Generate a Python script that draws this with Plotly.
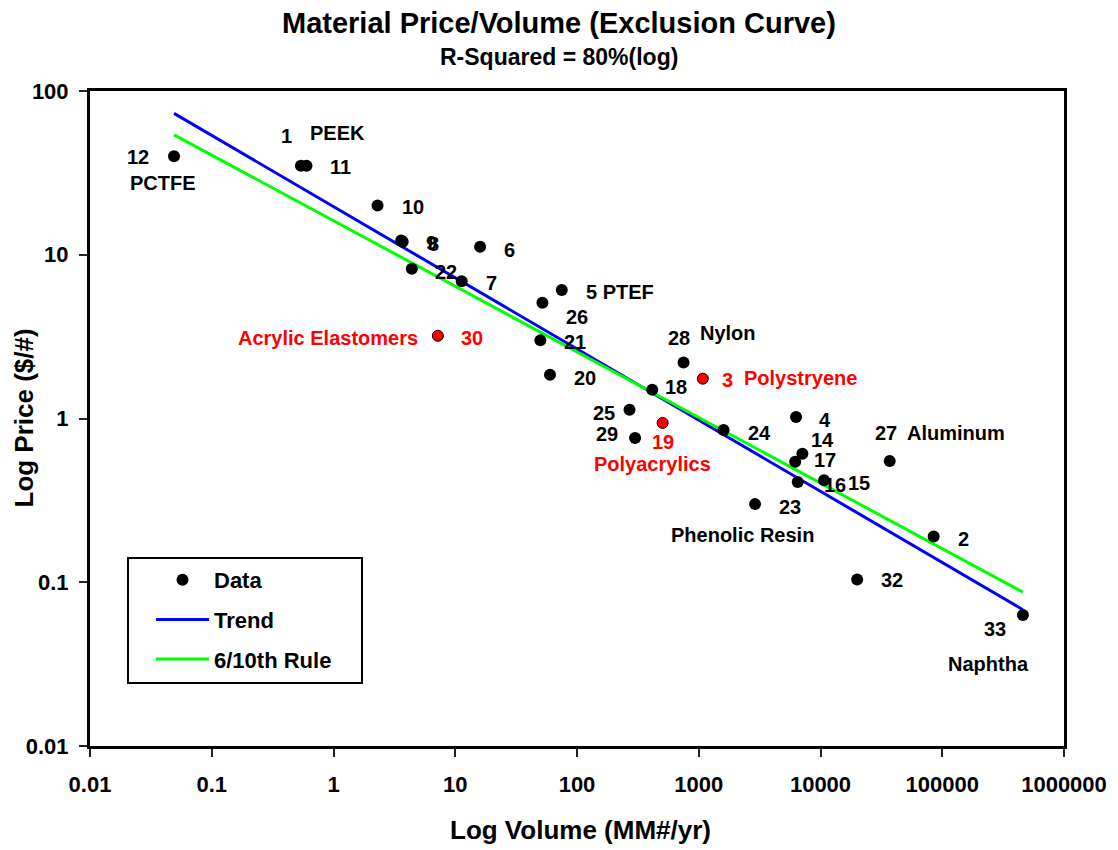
import math
import plotly.graph_objects as go

# ---------------- data ----------------
point_ids = [1, 2, 3, 4, 5, 6, 7, 8, 9, 10, 11, 12, 14, 15, 16, 17, 18, 19, 20,
             21, 22, 23, 24, 25, 26, 27, 28, 29, 30, 32, 33]
volume = [0.54, 85000, 1080, 6300, 75, 16, 11.3, 3.7, 3.6, 2.3, 0.60, 0.049,
          7100, 10700, 6500, 6200, 415, 505, 60, 50, 4.4, 2900, 1600, 270, 52,
          37000, 750, 300, 7.2, 20000, 460000]
price = [35, 0.19, 1.75, 1.02, 6.1, 11.2, 6.9, 12.0, 12.2, 20, 35, 40,
         0.61, 0.42, 0.41, 0.545, 1.5, 0.94, 1.85, 3.0, 8.2, 0.30, 0.85, 1.13, 5.1,
         0.55, 2.2, 0.76, 3.2, 0.104, 0.063]
highlighted_ids = [3, 19, 30]

trend_volume = [0.049, 460000]
trend_price = [73, 0.068]
rule_volume = [0.049, 460000]
rule_price = [54, 0.087]

material_names = {1: "PEEK", 12: "PCTFE", 30: "Acrylic Elastomers", 28: "Nylon",
                  3: "Polystryene", 19: "Polyacrylics", 23: "Phenolic Resin",
                  27: "Aluminum", 33: "Naphtha"}
number_texts = {5: "5 PTEF"}

x_ticks = [0.01, 0.1, 1, 10, 100, 1000, 10000, 100000, 1000000]
x_tick_labels = ["0.01", "0.1", "1", "10", "100", "1000", "10000", "100000", "1000000"]
y_ticks = [0.01, 0.1, 1, 10, 100]
y_tick_labels = ["0.01", "0.1", "1", "10", "100"]

# ---------------- label placement (pixels) ----------------
num_pos = {1: (-14, 30, "center"), 2: (22, -2, "left"), 3: (17, -1, "left"),
           4: (21, -3, "left"), 5: (22, -2, "left"), 6: (22, -3, "left"),
           7: (22, -2, "left"), 8: (23, -2, "left"), 9: (23, -2, "left"),
           10: (22, -2, "left"), 11: (22, -1, "left"), 12: (-23, -1, "right"),
           14: (7, 14, "left"), 15: (22, -3, "left"), 16: (24, -3, "left"),
           17: (17, 2, "left"), 18: (11, 3, "left"), 19: (0, -19, "center"),
           20: (22, -3, "left"), 21: (22, -2, "left"), 22: (21, -3, "left"),
           23: (22, -3, "left"), 24: (22, -3, "left"), 25: (-13, -3, "right"),
           26: (22, -14, "left"), 27: (-4, 28, "center"), 28: (-5, 24, "center"),
           29: (-15, 4, "right"), 30: (21, -2, "left"), 32: (22, -1, "left"),
           33: (-28, -14, "center")}
name_pos = {12: (-11, -27, "center"), 1: (7, 33, "left"), 30: (-18, -2, "right"),
            28: (14, 29, "left"), 3: (39, 1, "left"), 19: (-10, -41, "center"),
            23: (-13, -31, "center"), 27: (15, 28, "left"), 33: (-34, -49, "center")}

FONT = "Liberation Sans, Arial, sans-serif"
RED = "#FF0000"

# plot-area geometry in pixels (for paper-coordinate placement)
L, R, T, B = 90, 1064, 91, 746
PW, PH = R - L, B - T


def px(xp):
    return (xp - L) / PW


def py(yp):
    return (B - yp) / PH


fig = go.Figure()

fig.add_trace(go.Scatter(x=trend_volume, y=trend_price, mode="lines", name="Trend",
                         line=dict(color="#0000FF", width=3), legendrank=2,
                         legendgroup="g2"))
fig.add_trace(go.Scatter(x=rule_volume, y=rule_price, mode="lines", name="6/10th Rule",
                         line=dict(color="#00FF00", width=3), legendrank=3,
                         legendgroup="g3"))

bx = [v for i, v in zip(point_ids, volume) if i not in highlighted_ids]
by = [p for i, p in zip(point_ids, price) if i not in highlighted_ids]
rx = [v for i, v in zip(point_ids, volume) if i in highlighted_ids]
ry = [p for i, p in zip(point_ids, price) if i in highlighted_ids]

fig.add_trace(go.Scatter(x=bx, y=by, mode="markers", name="Data",
                         marker=dict(color="black", size=12), legendrank=1,
                         legendgroup="g1"))
fig.add_trace(go.Scatter(x=rx, y=ry, mode="markers", showlegend=False,
                         marker=dict(color=RED, size=11,
                                     line=dict(color="black", width=1))))

annotations = []
lookup = {i: (v, p) for i, v, p in zip(point_ids, volume, price)}
for i, (dx, dy, anc) in num_pos.items():
    v, p = lookup[i]
    annotations.append(dict(x=math.log10(v), y=math.log10(p), xref="x", yref="y",
                            text=number_texts.get(i, str(i)), showarrow=False,
                            xshift=dx, yshift=dy, xanchor=anc, yanchor="middle",
                            font=dict(family=FONT, size=20, weight="bold",
                                      color=RED if i in highlighted_ids else "black")))
for i, (dx, dy, anc) in name_pos.items():
    v, p = lookup[i]
    annotations.append(dict(x=math.log10(v), y=math.log10(p), xref="x", yref="y",
                            text=material_names[i], showarrow=False,
                            xshift=dx, yshift=dy, xanchor=anc, yanchor="middle",
                            font=dict(family=FONT, size=20, weight="bold",
                                      color=RED if i in highlighted_ids else "black")))

# titles
annotations.append(dict(x=px(559), y=py(23), xref="paper", yref="paper",
                        text="Material Price/Volume (Exclusion Curve)", showarrow=False,
                        xanchor="center", yanchor="middle",
                        font=dict(family=FONT, size=29, weight="bold", color="black")))
annotations.append(dict(x=px(559), y=py(57), xref="paper", yref="paper",
                        text="R-Squared = 80%(log)", showarrow=False,
                        xanchor="center", yanchor="middle",
                        font=dict(family=FONT, size=23, weight="bold", color="black")))
# axis titles
annotations.append(dict(x=px(580), y=py(830), xref="paper", yref="paper",
                        text="Log Volume (MM#/yr)", showarrow=False,
                        xanchor="center", yanchor="middle",
                        font=dict(family=FONT, size=26, weight="bold", color="black")))
annotations.append(dict(x=px(23), y=0.5, xref="paper", yref="paper",
                        text="Log Price ($/#)", showarrow=False, textangle=-90,
                        xanchor="center", yanchor="middle",
                        font=dict(family=FONT, size=26, weight="bold", color="black")))

axis_common = dict(type="log", showgrid=False, zeroline=False, showline=True,
                   linecolor="black", linewidth=3, mirror=True,
                   ticks="outside", ticklen=8, tickwidth=1.5, tickcolor="#222",
                   tickfont=dict(family=FONT, size=22, weight="bold", color="black"))

# legend frame
shapes = [dict(type="rect", xref="paper", yref="paper",
               x0=px(128), x1=px(362), y0=py(683), y1=py(558),
               line=dict(color="black", width=2), fillcolor="white", layer="above")]

fig.update_layout(
    width=1118, height=850,
    margin=dict(l=L, r=1118 - R, t=T, b=850 - B),
    paper_bgcolor="white", plot_bgcolor="white",
    font=dict(family=FONT, color="black"),
    xaxis=dict(range=[-2, 6], tickvals=x_ticks, ticktext=x_tick_labels,
               ticklabelstandoff=9, **axis_common),
    yaxis=dict(range=[-2, 2], tickvals=y_ticks, ticktext=y_tick_labels,
               ticklabelstandoff=6, **axis_common),
    legend=dict(x=px(151), y=py(559), xanchor="left", yanchor="top",
                bgcolor="rgba(0,0,0,0)", borderwidth=0,
                font=dict(family=FONT, size=22, weight="bold", color="black"),
                itemwidth=53, tracegroupgap=8, traceorder="grouped"),
    shapes=shapes,
    annotations=annotations,
)

fig.write_html("out.html")
